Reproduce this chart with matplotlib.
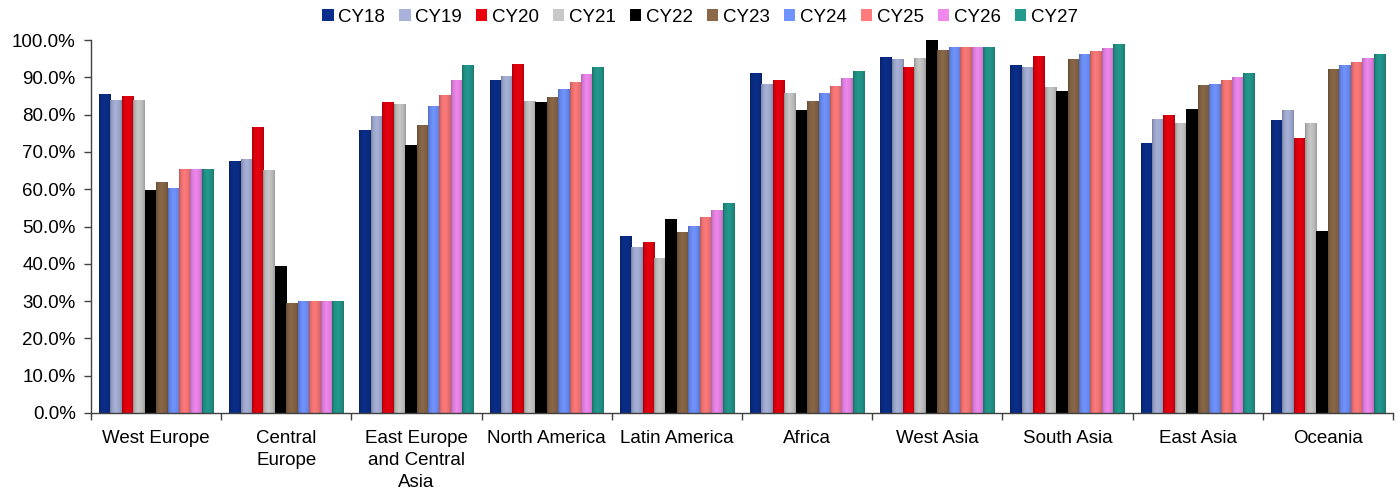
import numpy as np
import matplotlib
matplotlib.use("Agg")
import matplotlib.pyplot as plt
from matplotlib.patches import Patch
from matplotlib.ticker import FixedLocator, FuncFormatter
from matplotlib.colors import to_rgb

plt.rcParams['font.family'] = ['Liberation Sans', 'DejaVu Sans']

regions = ["West Europe", "Central\nEurope", "East Europe\nand Central\nAsia",
           "North America", "Latin America", "Africa", "West Asia",
           "South Asia", "East Asia", "Oceania"]
years = ["CY18", "CY19", "CY20", "CY21", "CY22", "CY23", "CY24", "CY25", "CY26", "CY27"]

# share (%) per region, one list per year
cy18 = [85.4, 67.4, 75.7, 89.2, 47.2, 91.1, 95.4, 93.3, 72.2, 78.4]
cy19 = [83.8, 67.9, 79.5, 90.3, 44.5, 88.2, 94.9, 92.7, 78.7, 81.2]
cy20 = [84.9, 76.5, 83.2, 93.5, 45.6, 89.2, 92.7, 95.7, 79.8, 73.6]
cy21 = [83.8, 65.0, 82.7, 83.5, 41.5, 85.7, 95.1, 87.3, 77.7, 77.7]
cy22 = [59.6, 39.4, 71.6, 83.2, 52.0, 81.1, 100.0, 86.2, 81.4, 48.8]
cy23 = [61.7, 29.4, 77.0, 84.6, 48.3, 83.5, 97.3, 94.9, 87.9, 92.2]
cy24 = [60.1, 30.0, 82.2, 86.7, 50.1, 85.7, 98.1, 96.0, 88.2, 93.3]
cy25 = [65.2, 30.0, 85.1, 88.6, 52.3, 87.6, 98.1, 97.0, 89.2, 94.1]
cy26 = [65.2, 30.0, 89.2, 90.8, 54.2, 89.8, 98.1, 97.8, 90.0, 95.1]
cy27 = [65.2, 30.0, 93.3, 92.7, 56.3, 91.6, 98.1, 98.9, 91.1, 96.2]
series = [cy18, cy19, cy20, cy21, cy22, cy23, cy24, cy25, cy26, cy27]

colors = ["#0a2e8a", "#a8b2da", "#e8000f", "#c8c8c8", "#000000",
          "#8a6848", "#7094ff", "#ff7a7a", "#f088ee", "#239a8e"]


def bar_gradient(color, n=40):
    """left-to-right shading so the bars look rounded"""
    t = np.linspace(0, 1, n)
    k = np.interp(t, [0, 0.15, 0.45, 0.8, 1], [0.72, 0.9, 1.0, 0.92, 0.78])
    rgb = np.array(to_rgb(color))
    return np.clip(k[:, None] * rgb[None, :], 0, 1)[None, :, :]


fig = plt.figure(figsize=(14, 4.92), dpi=100)
ax = fig.add_axes([0.065, 0.1606, 0.93, 0.758])

x = np.arange(len(regions))
n = len(series)
group_w = 0.877
w = group_w / n

for i, (vals, col) in enumerate(zip(series, colors)):
    pos = x - group_w / 2 + w * (i + 0.5)
    bars = ax.bar(pos, vals, width=w, color=col, linewidth=0, zorder=1)
    grad = bar_gradient(col)
    for b in bars:
        ax.imshow(grad, extent=(b.get_x(), b.get_x() + b.get_width(), 0, b.get_height()),
                  aspect='auto', interpolation='bilinear', zorder=2)

ax.set_xlim(-0.5, len(regions) - 0.5)
ax.set_ylim(0, 100)

# ticks between groups, labels in the middle
ax.xaxis.set_major_locator(FixedLocator(np.arange(len(regions) + 1) - 0.5))
ax.xaxis.set_minor_locator(FixedLocator(x))
ax.set_xticklabels([], minor=False)
ax.set_xticklabels(regions, minor=True, fontsize=13.5, linespacing=1.4, va='top')
ax.tick_params(axis='x', which='major', direction='out', length=5, width=1, color='#404040')
ax.tick_params(axis='x', which='minor', length=0, pad=12)

ax.set_yticks(np.arange(0, 101, 10))
ax.yaxis.set_major_formatter(FuncFormatter(lambda v, p: f"{v:.1f}%"))
ax.tick_params(axis='y', direction='out', length=5, width=1, color='#404040',
               labelsize=13.5, pad=6)

for s in ['top', 'right']:
    ax.spines[s].set_visible(False)
for s in ['left', 'bottom']:
    ax.spines[s].set_color('#404040')
    ax.spines[s].set_linewidth(1)

handles = [Patch(facecolor=c, edgecolor='none', label=y) for c, y in zip(colors, years)]
fig.legend(handles=handles, loc='center', bbox_to_anchor=(0.5, 0.965), ncol=10,
           frameon=False, fontsize=13.5, handlelength=0.6, handleheight=0.6,
           handletextpad=0.25, columnspacing=0.75, borderpad=0)

fig.savefig("out.png", dpi=100)
